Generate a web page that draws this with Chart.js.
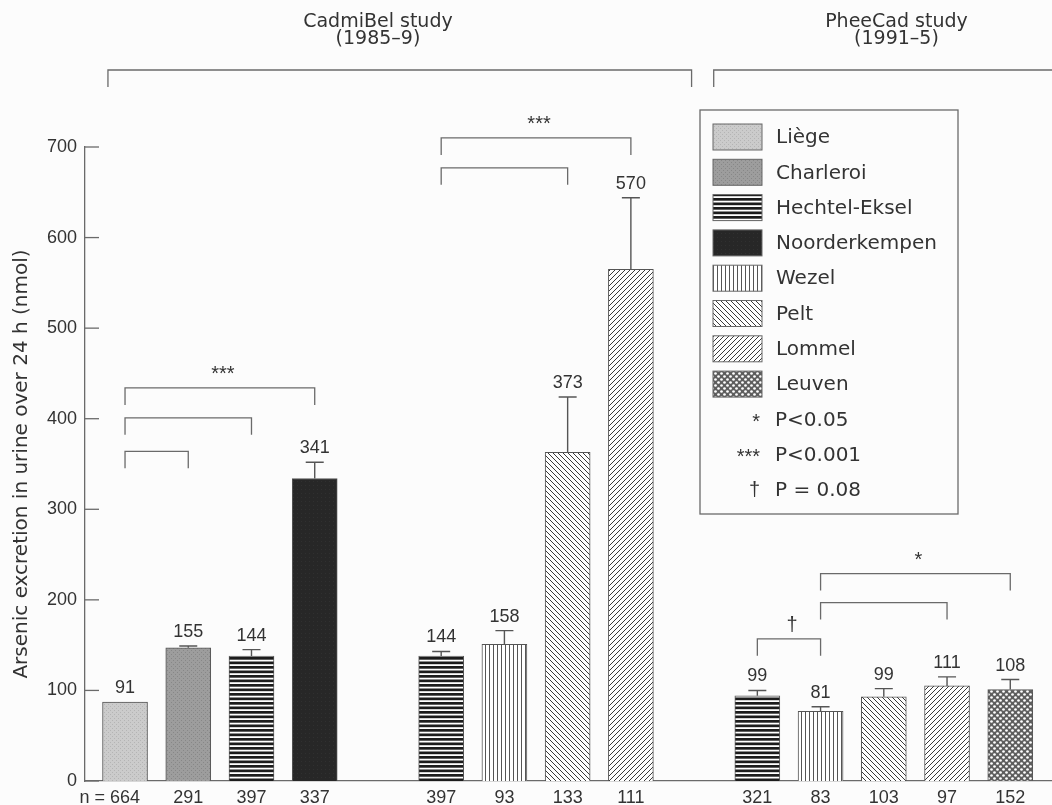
<!DOCTYPE html>
<html>
<head>
<meta charset="utf-8">
<script src="https://cdn.jsdelivr.net/npm/chart.js@4.4.1/dist/chart.umd.min.js"></script>
<style>
  html, body { margin: 0; padding: 0; background: #fcfcfc; }
  #wrap { width: 1052px; height: 805px; }
</style>
</head>
<body>
<div id="wrap"><canvas id="myChart" width="1052" height="805"></canvas></div>
<script>
// one slot per bar, empty slots separate the three groups
const nLabels = ['664', '291', '397', '337', '', '397', '93', '133', '111', '', '321', '83', '103', '97', '152'];
const sites = ['Liège', 'Charleroi', 'Hechtel-Eksel', 'Noorderkempen', '', 'Hechtel-Eksel', 'Wezel', 'Pelt', 'Lommel', '', 'Hechtel-Eksel', 'Wezel', 'Pelt', 'Lommel', 'Leuven'];
const means = [87, 147, 138, 334, null, 138, 151, 363, 565, null, 94, 77, 93, 105, 101];
const upperSE = [87, 149, 145, 352, null, 143, 166, 424, 644, null, 100, 82, 102, 115, 112];
const shownValues = ['91', '155', '144', '341', '', '144', '158', '373', '570', '', '99', '81', '99', '111', '108'];
const yTicks = [0, 100, 200, 300, 400, 500, 600, 700];

const legendSites = ['Liège', 'Charleroi', 'Hechtel-Eksel', 'Noorderkempen', 'Wezel', 'Pelt', 'Lommel', 'Leuven'];
const sigSymbols = ['*', '***', '†'];
const sigTexts = ['P<0.05', 'P<0.001', 'P = 0.08'];

// significance brackets: slot from / to, height in nmol
const bracketFrom = [0, 0, 0, 5, 5, 11, 11, 10];
const bracketTo = [3, 2, 1, 8, 7, 14, 13, 11];
const bracketY = [434, 401, 364, 710, 677, 229, 197, 157];
const bracketMark = ['***', '', '', '***', '', '*', '', '†'];

const studyNames = ['CadmiBel study', 'PheeCad study'];
const studyYears = ['(1985–9)', '(1991–5)'];

const NUM = '"Liberation Sans", Arial, sans-serif';
const TXT = '"DejaVu Sans", sans-serif';
const INK = '#333';
const LINE = '#6a6a6a';
const X_PAD = 8;

function tile(w, h, draw) {
    const c = document.createElement('canvas');
    c.width = w; c.height = h;
    const g = c.getContext('2d');
    draw(g, w, h);
    return document.createElement('canvas').getContext('2d').createPattern(c, 'repeat');
}

function diag(g, s, forward) {
    g.fillStyle = '#fff'; g.fillRect(0, 0, s, s);
    g.strokeStyle = '#3a3a3a'; g.lineWidth = 1;
    for (const o of [-s, 0, s]) {
        g.beginPath();
        if (forward) { g.moveTo(o, s); g.lineTo(o + s, 0); }
        else { g.moveTo(o, 0); g.lineTo(o + s, s); }
        g.stroke();
    }
}

const patterns = {
    'Liège': tile(4, 4, (g) => {
        g.fillStyle = '#cbcbcb'; g.fillRect(0, 0, 4, 4);
        g.fillStyle = '#b4b4b4'; g.fillRect(0, 0, 1, 1); g.fillRect(2, 2, 1, 1);
    }),
    'Charleroi': tile(4, 4, (g) => {
        g.fillStyle = '#9d9d9d'; g.fillRect(0, 0, 4, 4);
        g.fillStyle = '#878787'; g.fillRect(1, 0, 1, 1); g.fillRect(3, 2, 1, 1);
    }),
    'Hechtel-Eksel': tile(4, 9, (g) => {
        g.fillStyle = '#fff'; g.fillRect(0, 0, 4, 9);
        g.fillStyle = '#1c1c1c'; g.fillRect(0, 0, 4, 2.7); g.fillRect(0, 4.5, 4, 2.7);
    }),
    'Noorderkempen': tile(4, 4, (g) => {
        g.fillStyle = '#272727'; g.fillRect(0, 0, 4, 4);
        g.fillStyle = '#303030'; g.fillRect(1, 1, 1, 1);
    }),
    'Wezel': tile(4, 4, (g) => {
        g.fillStyle = '#fff'; g.fillRect(0, 0, 4, 4);
        g.fillStyle = '#555'; g.fillRect(1, 0, 1, 4);
    }),
    'Pelt': tile(5, 5, (g, s) => diag(g, s, false)),
    'Lommel': tile(5, 5, (g, s) => diag(g, s, true)),
    'Leuven': tile(6, 6, (g) => {
        g.fillStyle = '#5e5e5e'; g.fillRect(0, 0, 6, 6);
        g.fillStyle = '#fff';
        for (const [cx, cy] of [[1.5, 1.5], [4.5, 4.5]]) {
            g.beginPath(); g.arc(cx, cy, 1.35, 0, Math.PI * 2); g.fill();
        }
    })
};

const bars = [];
means.forEach((v, i) => { if (v !== null) bars.push({ x: i, y: v }); });

const extras = {
    id: 'extras',
    afterDatasetsDraw(chart) {
        const { ctx, scales: { x, y } } = chart;
        ctx.save();
        ctx.strokeStyle = '#555';
        ctx.lineWidth = 1.4;
        means.forEach((v, i) => {
            if (v === null) return;
            const px = x.getPixelForValue(i);
            const top = y.getPixelForValue(upperSE[i]);
            if (upperSE[i] > v) {
                ctx.beginPath();
                ctx.moveTo(px, y.getPixelForValue(v));
                ctx.lineTo(px, top);
                ctx.moveTo(px - 9, top);
                ctx.lineTo(px + 9, top);
                ctx.stroke();
            }
            ctx.fillStyle = INK;
            ctx.font = '18px ' + NUM;
            ctx.textAlign = 'center';
            ctx.textBaseline = 'alphabetic';
            ctx.fillText(shownValues[i], px, top - 9);
        });
        ctx.restore();
    },
    afterDraw(chart) {
        const { ctx, chartArea, scales: { x, y } } = chart;
        ctx.save();
        ctx.strokeStyle = LINE;
        ctx.lineWidth = 1.3;

        // inward y ticks
        yTicks.forEach((t) => {
            const py = y.getPixelForValue(t);
            ctx.beginPath();
            ctx.moveTo(chartArea.left, py);
            ctx.lineTo(chartArea.left + 14, py);
            ctx.stroke();
        });

        // significance brackets
        bracketFrom.forEach((f, k) => {
            const x1 = x.getPixelForValue(f);
            const x2 = x.getPixelForValue(bracketTo[k]);
            const py = y.getPixelForValue(bracketY[k]);
            ctx.beginPath();
            ctx.moveTo(x1, py + 17); ctx.lineTo(x1, py); ctx.lineTo(x2, py); ctx.lineTo(x2, py + 17);
            ctx.stroke();
            if (bracketMark[k]) {
                ctx.fillStyle = INK;
                ctx.font = '20px ' + NUM;
                ctx.textAlign = 'center';
                ctx.textBaseline = 'middle';
                ctx.fillText(bracketMark[k], (x1 + x2) / 2 + 3, py - 13);
            }
        });

        // study brackets and headings
        const studyFrom = [x.getPixelForValue(-0.27), x.getPixelForValue(9.31)];
        const studyTo = [x.getPixelForValue(8.96), chart.width + 20];
        const studyMid = [x.getPixelForValue(4.0), x.getPixelForValue(12.2)];
        const sy = y.getPixelForValue(785);
        studyNames.forEach((name, k) => {
            ctx.beginPath();
            ctx.moveTo(studyFrom[k], sy + 17); ctx.lineTo(studyFrom[k], sy);
            ctx.lineTo(studyTo[k], sy); ctx.lineTo(studyTo[k], sy + 17);
            ctx.stroke();
            ctx.fillStyle = INK;
            ctx.font = '19px ' + TXT;
            ctx.textAlign = 'center';
            ctx.textBaseline = 'alphabetic';
            ctx.fillText(name, studyMid[k], 27);
            ctx.fillText(studyYears[k], studyMid[k], 44);
        });

        // legend box
        const lx = 700, ly = 110, lw = 258, lh = 404, step = 35.3, first = 137;
        ctx.strokeRect(lx, ly, lw, lh);
        ctx.font = '20px ' + TXT;
        ctx.textAlign = 'left';
        ctx.textBaseline = 'middle';
        legendSites.forEach((s, k) => {
            const cy = first + k * step;
            ctx.fillStyle = patterns[s];
            ctx.fillRect(lx + 13, cy - 13, 49, 26);
            ctx.strokeStyle = '#666';
            ctx.lineWidth = 1;
            ctx.strokeRect(lx + 13, cy - 13, 49, 26);
            ctx.fillStyle = INK;
            ctx.fillText(s, lx + 76, cy + 1);
        });
        sigSymbols.forEach((sym, k) => {
            const cy = first + (legendSites.length + k) * step;
            ctx.fillStyle = INK;
            ctx.textAlign = 'right';
            ctx.font = '20px ' + NUM;
            ctx.fillText(sym, lx + 60, cy + (sym === '†' ? 0 : 3));
            ctx.textAlign = 'left';
            ctx.font = '20px ' + TXT;
            ctx.fillText(sigTexts[k], lx + 75, cy + 1);
        });

        // "n =" in front of the first sample size
        ctx.font = '18px ' + NUM;
        ctx.fillStyle = INK;
        ctx.textAlign = 'right';
        ctx.textBaseline = 'middle';
        const first0 = x.getPixelForValue(0) - ctx.measureText(nLabels[0]).width / 2;
        ctx.fillText('n = ', first0, x.top + X_PAD + 9);
        ctx.restore();
    }
};

const ctx = document.getElementById('myChart');

new Chart(ctx, {
    type: 'bar',
    data: {
        datasets: [{
            data: bars,
            backgroundColor: bars.map(b => patterns[sites[b.x]]),
            borderColor: '#555',
            borderWidth: 1,
            barThickness: 45
        }]
    },
    options: {
        responsive: false,
        animation: false,
        layout: { padding: { top: 147, right: 0, bottom: 0, left: 0 } },
        plugins: {
            legend: { display: false },
            tooltip: { enabled: false }
        },
        scales: {
            x: {
                type: 'linear',
                offset: false,
                min: -0.633,
                max: 14.66,
                afterBuildTicks: (scale) => { scale.ticks = nLabels.map((_, i) => ({ value: i })); },
                afterFit: (scale) => { scale.height = 24; },
                ticks: {
                    callback: (v) => nLabels[v] ?? '',
                    autoSkip: false,
                    maxRotation: 0,
                    padding: X_PAD,
                    color: INK,
                    font: { family: NUM, size: 18, lineHeight: 1 }
                },
                grid: { display: false, drawTicks: false },
                border: { display: true, color: LINE, width: 1.3 }
            },
            y: {
                min: 0,
                max: 700,
                afterFit: (scale) => { scale.width = 85; },
                ticks: {
                    stepSize: 100,
                    padding: 8,
                    color: INK,
                    font: { family: NUM, size: 18 }
                },
                grid: { display: false, drawTicks: false },
                border: { display: true, color: LINE, width: 1.3 },
                title: {
                    display: true,
                    text: 'Arsenic excretion in urine over 24 h (nmol)',
                    color: INK,
                    font: { family: TXT, size: 20 },
                    padding: { top: 10, bottom: 0 }
                }
            }
        }
    },
    plugins: [extras]
});
</script>
</body>
</html>
